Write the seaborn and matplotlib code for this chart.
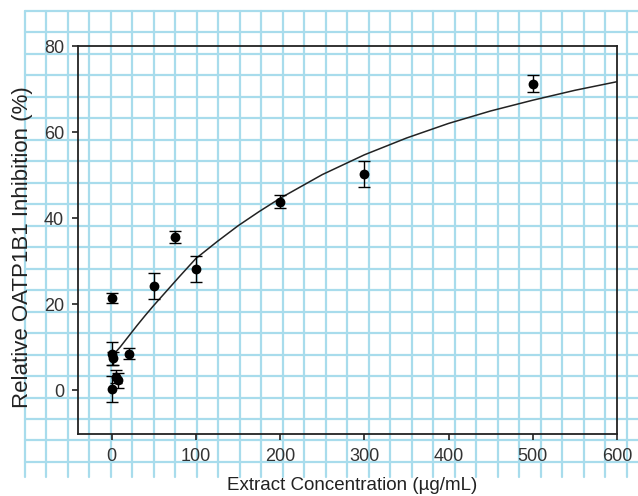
import numpy as np
import matplotlib
matplotlib.use("Agg")
import matplotlib.pyplot as plt
import seaborn as sns
from matplotlib.lines import Line2D

sns.set_style("ticks")
plt.rcParams['font.family'] = ['Liberation Sans', 'DejaVu Sans']

# measured points (concentration, inhibition, error)
conc = [0, 0, 0.5, 1.5, 5, 8, 20, 50, 75, 100, 200, 300, 500]
inhib = [21.4, 0.2, 8.5, 7.4, 3.1, 2.3, 8.5, 24.2, 35.6, 28.2, 43.8, 50.2, 71.2]
err = [1.2, 3.0, 2.6, 1.5, 1.5, 1.7, 1.3, 3.0, 1.3, 3.0, 1.5, 3.0, 2.0]

# fitted curve
fit_x = [1, 10, 20, 30, 40, 50, 65, 80, 100, 125, 150, 175, 200, 250,
         300, 350, 400, 450, 500, 550, 600]
fit_y = [8.0, 10.0, 12.5, 15.0, 17.4, 19.7, 23.0, 26.3, 30.6, 34.5, 38.2,
         41.5, 44.6, 50.1, 54.7, 58.6, 62.0, 64.9, 67.4, 69.7, 71.7]

W, H = 638, 496
fig = plt.figure(figsize=(W / 100, H / 100), dpi=100)
fig.patch.set_facecolor("white")

# graph-paper background
grid_col = "#a8dcec"
x0, y0, step = 25, 10.7, 21.49
for i in range(29):
    xp = x0 + i * step
    fig.add_artist(Line2D([xp / W, xp / W], [1 - y0 / H, 1 - 477 / H],
                          transform=fig.transFigure, color=grid_col, lw=1.6, zorder=0))
for j in range(22):
    yp = y0 + j * step
    fig.add_artist(Line2D([x0 / W, 638 / W], [1 - yp / H, 1 - yp / H],
                          transform=fig.transFigure, color=grid_col, lw=1.6, zorder=0))

ax = fig.add_axes([78 / W, 1 - 434 / H, (617 - 78) / W, (434 - 46) / H])
ax.set_facecolor("none")

sns.lineplot(x=fit_x, y=fit_y, ax=ax, color="#222222", lw=1.1, zorder=2)
ax.errorbar(conc, inhib, yerr=err, fmt="none", ecolor="black", elinewidth=1.0,
            capsize=4, capthick=1.0, zorder=3)
sns.scatterplot(x=conc, y=inhib, ax=ax, color="black", s=50, edgecolor="black",
                linewidth=0, zorder=4)

ax.set_xlim(-40, 600)
ax.set_ylim(-10.2, 80)
ax.set_xticks([0, 100, 200, 300, 400, 500, 600])
ax.set_yticks([0, 20, 40, 60, 80])
for s in ax.spines.values():
    s.set_color("#222222")
    s.set_linewidth(1.3)
ax.tick_params(direction="out", length=4.5, width=1.2, colors="#222222",
               labelcolor="#333333", labelsize=13, pad=5.5)
ax.set_xlabel("Extract Concentration (µg/mL)", fontsize=13.5, color="#222222")
ax.set_ylabel("Relative OATP1B1 Inhibition (%)", fontsize=16, color="#222222")
ax.xaxis.set_label_coords(0.509, -0.111)
ax.yaxis.set_label_coords(-0.083, 0.482)

fig.savefig("out.png", dpi=100)
